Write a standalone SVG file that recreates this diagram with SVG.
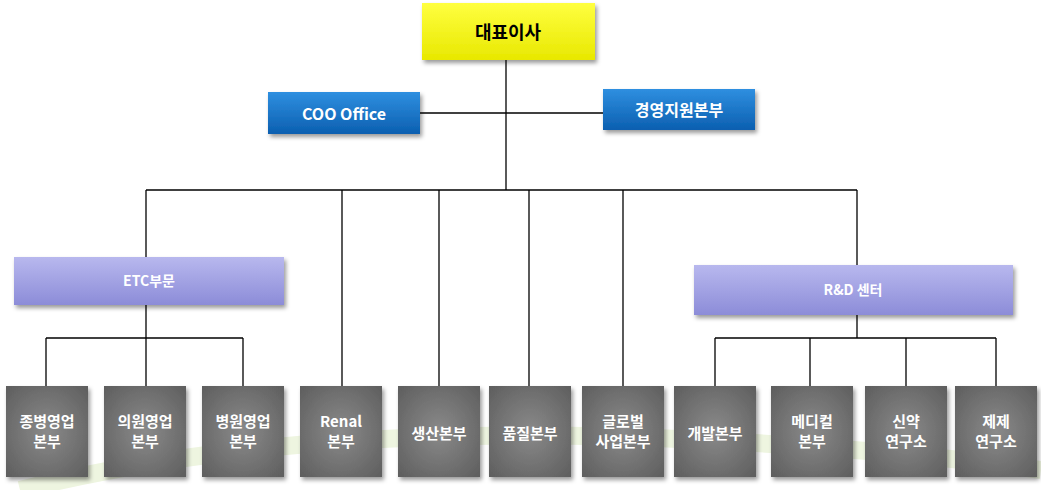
<svg xmlns="http://www.w3.org/2000/svg" width="1041" height="490" viewBox="0 0 1041 490">
<defs>
<linearGradient id="gy" x1="0" y1="0" x2="0" y2="1"><stop offset="0" stop-color="#ffff40"/><stop offset="1" stop-color="#e8e800"/></linearGradient>
<linearGradient id="bl" x1="0" y1="0" x2="0" y2="1"><stop offset="0" stop-color="#2f8fe0"/><stop offset="1" stop-color="#0b5fb0"/></linearGradient>
<linearGradient id="pu" x1="0" y1="0" x2="0" y2="1"><stop offset="0" stop-color="#b8b8ee"/><stop offset="1" stop-color="#8c8cd8"/></linearGradient>
<radialGradient id="gr" cx="0.5" cy="0.5" r="0.7"><stop offset="0" stop-color="#8a8a8a"/><stop offset="1" stop-color="#5e5e5e"/></radialGradient>
<filter id="sh" x="-10%" y="-10%" width="130%" height="130%"><feDropShadow dx="2" dy="3" stdDeviation="2" flood-color="#000" flood-opacity="0.4"/></filter>
</defs>
<style>
.t{font-family:"Noto Sans CJK KR","Liberation Sans",sans-serif;font-weight:bold;text-anchor:middle;fill:#fff}
.k{fill:#000}
.g{fill:url(#gr);filter:url(#sh)}
line{stroke:#000;stroke-width:1.3}
</style>
<rect width="1041" height="490" fill="#fff"/>
<path d="M20 490 Q300 420 700 440 Q900 450 1041 470" fill="none" stroke="#eef5e0" stroke-width="18"/>
<g id="connectors">
<line x1="506" y1="60" x2="506" y2="190"/>
<line x1="420" y1="113" x2="603" y2="113"/>
<line x1="146" y1="190" x2="857" y2="190"/>
<line x1="146" y1="190" x2="146" y2="257"/>
<line x1="342" y1="190" x2="342" y2="386"/>
<line x1="439" y1="190" x2="439" y2="386"/>
<line x1="529" y1="190" x2="529" y2="386"/>
<line x1="623" y1="190" x2="623" y2="386"/>
<line x1="857" y1="190" x2="857" y2="265"/>
<line x1="146" y1="305" x2="146" y2="386"/>
<line x1="46" y1="338" x2="243" y2="338"/>
<line x1="46" y1="338" x2="46" y2="386"/>
<line x1="243" y1="338" x2="243" y2="386"/>
<line x1="857" y1="315" x2="857" y2="338"/>
<line x1="715" y1="338" x2="996" y2="338"/>
<line x1="715" y1="338" x2="715" y2="386"/>
<line x1="810" y1="338" x2="810" y2="386"/>
<line x1="906" y1="338" x2="906" y2="386"/>
<line x1="996" y1="338" x2="996" y2="386"/>
</g>
<g id="ceo"><rect x="422" y="3" width="173" height="57" fill="url(#gy)" filter="url(#sh)"/><text class="t k" x="508" y="39" font-size="18">대표이사</text></g>
<g id="coo"><rect x="268" y="92" width="152" height="42" fill="url(#bl)" filter="url(#sh)"/><text class="t" x="344" y="120" font-size="16">COO Office</text></g>
<g id="mgmt"><rect x="603" y="89" width="152" height="41" fill="url(#bl)" filter="url(#sh)"/><text class="t" x="679" y="116" font-size="16">경영지원본부</text></g>
<g id="etc"><rect x="14" y="257" width="270" height="48" fill="url(#pu)" filter="url(#sh)"/><text class="t" x="149" y="286" font-size="14">ETC부문</text></g>
<g id="rnd"><rect x="694" y="265" width="319" height="50" fill="url(#pu)" filter="url(#sh)"/><text class="t" x="853" y="295" font-size="14">R&amp;D 센터</text></g>
<g id="b1"><rect class="g" x="6" y="386" width="82" height="91"/><text class="t" x="47" y="427" font-size="15">종병영업</text><text class="t" x="47" y="447" font-size="15">본부</text></g>
<g id="b2"><rect class="g" x="104" y="386" width="82" height="91"/><text class="t" x="145" y="427" font-size="15">의원영업</text><text class="t" x="145" y="447" font-size="15">본부</text></g>
<g id="b3"><rect class="g" x="202" y="386" width="82" height="91"/><text class="t" x="243" y="427" font-size="15">병원영업</text><text class="t" x="243" y="447" font-size="15">본부</text></g>
<g id="b4"><rect class="g" x="300" y="386" width="82" height="91"/><text class="t" x="341" y="427" font-size="15">Renal</text><text class="t" x="341" y="447" font-size="15">본부</text></g>
<g id="b5"><rect class="g" x="398" y="386" width="82" height="91"/><text class="t" x="439" y="439" font-size="15">생산본부</text></g>
<g id="b6"><rect class="g" x="489" y="386" width="82" height="91"/><text class="t" x="530" y="439" font-size="15">품질본부</text></g>
<g id="b7"><rect class="g" x="582" y="386" width="82" height="91"/><text class="t" x="623" y="427" font-size="15">글로벌</text><text class="t" x="623" y="447" font-size="15">사업본부</text></g>
<g id="b8"><rect class="g" x="674" y="386" width="82" height="91"/><text class="t" x="715" y="439" font-size="15">개발본부</text></g>
<g id="b9"><rect class="g" x="771" y="386" width="82" height="91"/><text class="t" x="812" y="427" font-size="15">메디컬</text><text class="t" x="812" y="447" font-size="15">본부</text></g>
<g id="b10"><rect class="g" x="865" y="386" width="82" height="91"/><text class="t" x="906" y="427" font-size="15">신약</text><text class="t" x="906" y="447" font-size="15">연구소</text></g>
<g id="b11"><rect class="g" x="955" y="386" width="82" height="91"/><text class="t" x="996" y="427" font-size="15">제제</text><text class="t" x="996" y="447" font-size="15">연구소</text></g>
</svg>
